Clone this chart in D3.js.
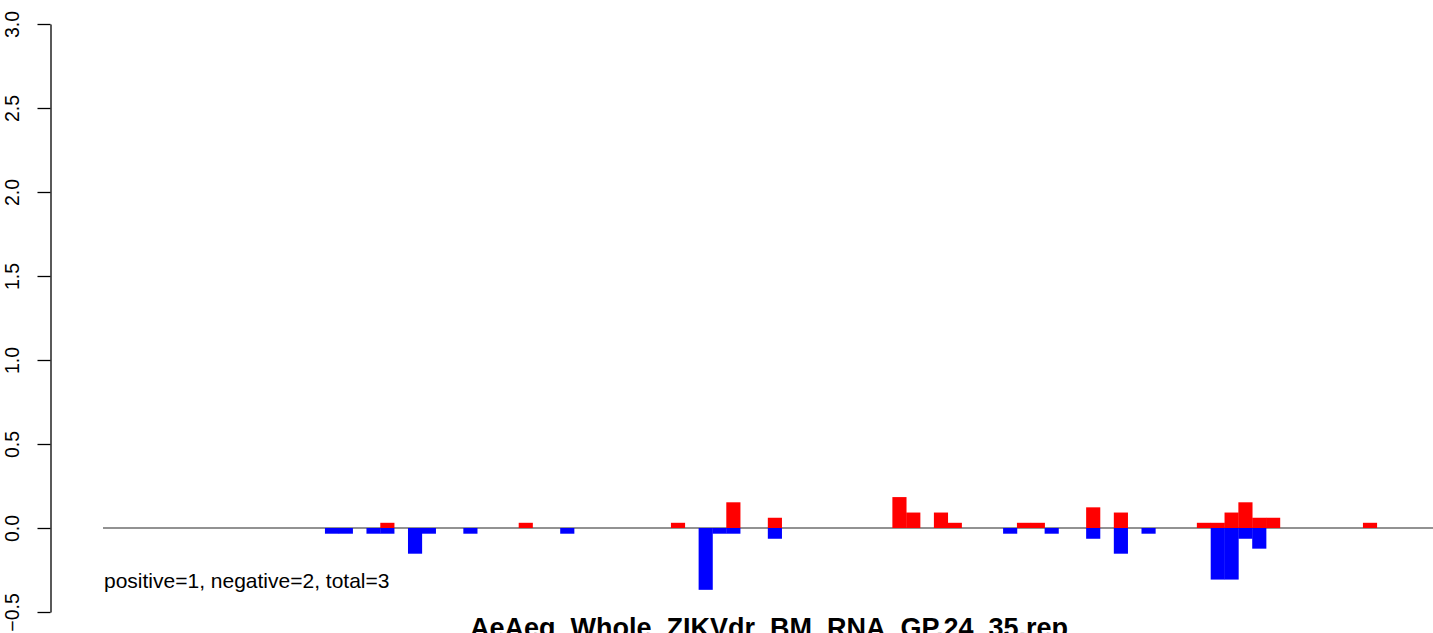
<!DOCTYPE html>
<html>
<head>
<meta charset="utf-8">
<script src="https://cdn.jsdelivr.net/npm/d3@7"></script>
<style>
  html, body { margin: 0; padding: 0; background: #fff; overflow: hidden; }
  svg { display: block; font-family: "Liberation Sans", Arial, Helvetica, sans-serif; }
</style>
</head>
<body>
<svg id="chart" width="1433" height="633"></svg>
<script>
// ---- data ----
const binCount = 96;
const posBins   = [20, 30, 41, 45, 48, 57, 58, 60, 61, 66, 67, 71, 73, 79, 80, 81, 82, 83, 84, 91];
const posValues = [0.031, 0.031, 0.031, 0.153, 0.061, 0.184, 0.092, 0.092, 0.031, 0.031, 0.031, 0.123, 0.092, 0.031, 0.031, 0.092, 0.153, 0.061, 0.061, 0.031];
const negBins   = [16, 17, 19, 20, 22, 23, 26, 33, 43, 44, 45, 48, 65, 68, 71, 73, 75, 80, 81, 82, 83];
const negValues = [-0.034, -0.034, -0.034, -0.034, -0.153, -0.034, -0.034, -0.034, -0.368, -0.034, -0.034, -0.064, -0.034, -0.034, -0.064, -0.153, -0.034, -0.307, -0.307, -0.064, -0.123];
const yTicks = [-0.5, 0.0, 0.5, 1.0, 1.5, 2.0, 2.5, 3.0];
const yTickLabels = ["\u22120.5", "0.0", "0.5", "1.0", "1.5", "2.0", "2.5", "3.0"];
const title = "AeAeg_Whole_ZIKVdr_BM_RNA_GP.24_35.rep";
const note = "positive=1, negative=2, total=3";

// ---- layout ----
const svg = d3.select("#chart");
const y = d3.scaleLinear().domain([-0.5, 3.0]).range([612, 24]);
const x = d3.scaleBand().domain(d3.range(binCount)).range([103.5, 103.5 + binCount * 13.84]).padding(0);

// zero line
svg.append("line")
  .attr("x1", 103).attr("x2", 1433)
  .attr("y1", y(0)).attr("y2", y(0))
  .attr("stroke", "#6e6e6e").attr("stroke-width", 1.4);

// negative bars
svg.append("g").selectAll("rect")
  .data(negBins.map((b, i) => ({ b, v: negValues[i] })))
  .join("rect")
  .attr("x", d => x(d.b))
  .attr("width", x.bandwidth() + 0.3)
  .attr("y", y(0))
  .attr("height", d => y(d.v) - y(0))
  .attr("fill", "#0000ff");

// positive bars
svg.append("g").selectAll("rect")
  .data(posBins.map((b, i) => ({ b, v: posValues[i] })))
  .join("rect")
  .attr("x", d => x(d.b))
  .attr("width", x.bandwidth() + 0.3)
  .attr("y", d => y(d.v))
  .attr("height", d => y(0) - y(d.v))
  .attr("fill", "#ff0000");

// y axis
const axis = d3.axisLeft(y)
  .tickValues(yTicks)
  .tickFormat((d, i) => yTickLabels[i])
  .tickSize(13)
  .tickSizeOuter(0);
const ag = svg.append("g").attr("transform", "translate(50.5,0)").call(axis);
ag.select(".domain").attr("stroke", "#000").attr("stroke-width", 1.3);
ag.selectAll(".tick line").attr("stroke", "#000").attr("stroke-width", 1.3);
ag.selectAll(".tick text")
  .attr("font-size", 19.5)
  .attr("font-family", "Liberation Sans, Arial, sans-serif")
  .attr("fill", "#000")
  .attr("text-anchor", "middle")
  .attr("dy", null)
  .attr("x", 0)
  .attr("y", 0)
  .attr("transform", "translate(-31.5,0) rotate(-90)");

// note
svg.append("text")
  .attr("x", 104).attr("y", 588)
  .attr("font-size", 21)
  .attr("fill", "#000")
  .text(note);

// title
svg.append("text")
  .attr("x", 769).attr("y", 637)
  .attr("text-anchor", "middle")
  .attr("font-size", 27)
  .attr("font-weight", "bold")
  .attr("fill", "#000")
  .text(title);
</script>
</body>
</html>
